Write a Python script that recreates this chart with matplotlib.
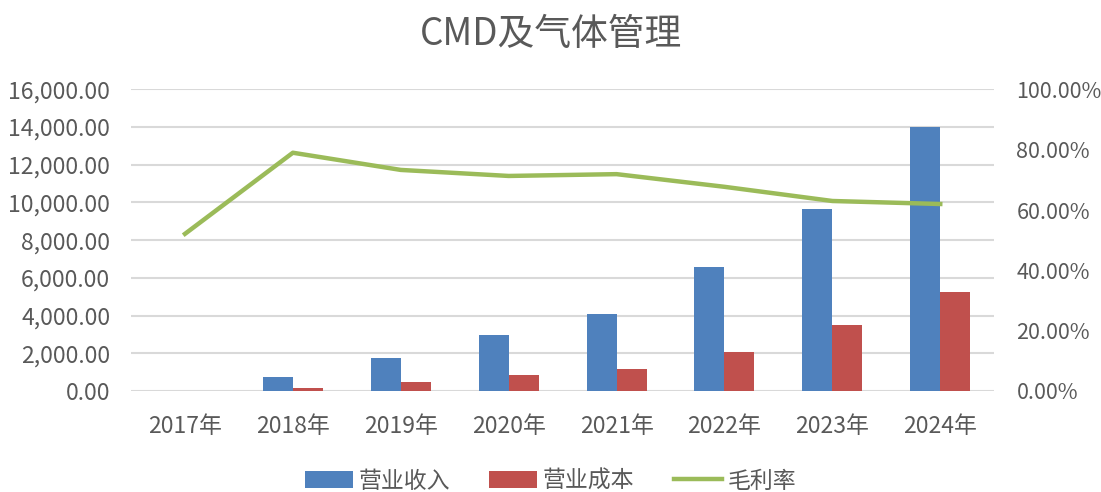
import matplotlib.pyplot as plt
import numpy as np
from matplotlib.ticker import FuncFormatter

plt.rcParams['font.family'] = ['Noto Sans CJK SC', 'DejaVu Sans']

years = ['2017年', '2018年', '2019年', '2020年', '2021年', '2022年', '2023年', '2024年']
revenue = [0, 730, 1740, 2970, 4090, 6580, 9640, 14020]
cost = [0, 175, 495, 835, 1170, 2050, 3520, 5240]
margin = [52.1, 79.0, 73.3, 71.3, 71.9, 67.7, 63.0, 62.0]

fig = plt.figure(figsize=(11.01, 4.92), dpi=100)
ax = fig.add_axes([0.119, 0.2053, 0.784, 0.613])
ax2 = ax.twinx()

x = np.arange(len(years))
w = 0.278
b1 = ax.bar(x - w/2, revenue, w, color='#4f81bd', label='营业收入', zorder=3)
b2 = ax.bar(x + w/2, cost, w, color='#c0504d', label='营业成本', zorder=3)
l1, = ax2.plot(x, margin, color='#9bbb59', lw=3.2, label='毛利率', zorder=4)

ax.set_xlim(-0.5, len(years) - 0.5)
ax.set_ylim(0, 16000)
ax.set_yticks(np.arange(0, 16001, 2000))
ax.yaxis.set_major_formatter(FuncFormatter(lambda v, p: f'{v:,.2f}'))
ax2.set_ylim(0, 100)
ax2.set_yticks(np.arange(0, 101, 20))
ax2.yaxis.set_major_formatter(FuncFormatter(lambda v, p: f'{v:.2f}%'))

ax.set_xticks(x)
ax.set_xticklabels(years)
ax.grid(axis='y', color='#d9d9d9', lw=1.5, zorder=0)
for a in (ax, ax2):
    for s in a.spines.values():
        s.set_visible(False)
    a.tick_params(length=0, colors='#595959')
ax.tick_params(axis='both', labelsize=16.5)
ax2.tick_params(axis='y', labelsize=15.5)
ax.tick_params(axis='y', pad=15)
ax.tick_params(axis='x', pad=17)
ax2.tick_params(axis='y', pad=16)

fig.text(0.5, 1 - 35 / 492, 'CMD及气体管理', fontsize=26.5, color='#595959',
         ha='center', va='center')

fig.legend(handles=[b1, b2, l1], loc='center', bbox_to_anchor=(0.5, 1 - 481 / 492),
           ncol=3, frameon=False, fontsize=16.5, handlelength=2.1, columnspacing=1.7,
           handletextpad=0.25, labelcolor='#595959', borderpad=0)

fig.savefig('out.png', dpi=100)
